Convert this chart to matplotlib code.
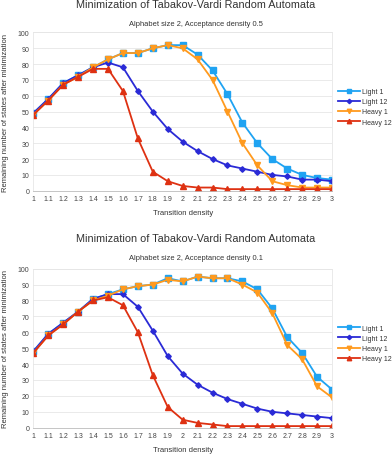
import matplotlib
matplotlib.use("Agg")
import matplotlib.pyplot as plt

plt.rcParams['font.family'] = ['Liberation Sans', 'DejaVu Sans']

density = [1, 1.1, 1.2, 1.3, 1.4, 1.5, 1.6, 1.7, 1.8, 1.9, 2,
           2.1, 2.2, 2.3, 2.4, 2.5, 2.6, 2.7, 2.8, 2.9, 3]
tick_labels = ['1', '1.1', '1.2', '1.3', '1.4', '1.5', '1.6', '1.7', '1.8', '1.9', '2',
               '2.1', '2.2', '2.3', '2.4', '2.5', '2.6', '2.7', '2.8', '2.9', '3']

# acceptance density 0.5
light1_a = [49, 58, 68, 73, 78, 83, 87, 87, 90, 92, 92, 86, 76, 61, 43, 30, 20, 14, 10, 8, 7]
light12_a = [49, 58, 68, 73, 78, 81, 78, 63, 50, 39, 31, 25, 20, 16, 14, 12, 10, 9, 7, 7, 6]
heavy1_a = [48, 57, 67, 72, 78, 83, 87, 87, 90, 92, 90, 83, 70, 50, 30, 16, 6, 3.5, 2, 2, 2]
heavy12_a = [48, 57, 67, 72, 77, 77, 63, 33, 12, 6, 3, 2, 2, 1, 1, 1, 1, 1, 1, 1, 1]

# acceptance density 0.1
light1_b = [48, 59, 66, 73, 81, 84, 87, 89, 90, 94, 92, 95, 94, 94, 92, 87, 75, 57, 47, 32, 24]
light12_b = [48, 59, 66, 73, 81, 84, 84, 76, 61, 45, 34, 27, 22, 18, 15, 12, 10, 9, 8, 7, 6]
heavy1_b = [47, 58, 65, 73, 80, 83, 87, 89, 90, 93, 92, 95, 94, 94, 90, 85, 72, 52, 43, 26, 19]
heavy12_b = [47, 58, 65, 73, 80, 82, 77, 60, 33, 13, 5, 3, 2, 1, 1, 1, 1, 1, 1, 1, 1]

names = ['Light 1', 'Light 12', 'Heavy 1', 'Heavy 12']
colors = ['#1fa3f2', '#2a2ad6', '#ff9a1e', '#de3112']
markers = ['s', 'D', 'v', '^']
msizes = [4, 2.8, 4, 4]

fig = plt.figure(figsize=(3.92, 4.56), dpi=100)


def draw(rect, series, subtitle, title_y):
    ax = fig.add_axes(rect)
    for vals, name, c, m, ms in zip(series, names, colors, markers, msizes):
        ax.plot(density, vals, color=c, lw=1.3, marker=m, ms=ms, label=name)
    ax.set_xlim(1, 3)
    ax.set_ylim(0, 100)
    ax.set_xticks(density)
    ax.set_xticklabels(tick_labels)
    ax.set_yticks(range(0, 101, 10))
    ax.tick_params(length=0, labelsize=5, colors='#444444', pad=3)
    ax.grid(axis='y', color='#e6e6e6', lw=0.6)
    ax.set_axisbelow(True)
    for s in ['top', 'left', 'right']:
        ax.spines[s].set_color('#e6e6e6')
        ax.spines[s].set_linewidth(0.6)
    ax.spines['bottom'].set_color('#bbbbbb')
    ax.spines['bottom'].set_linewidth(0.6)
    ax.set_xlabel('Transition density', fontsize=5.5, color='#333333', labelpad=5)
    ax.set_ylabel('Remaining number of states after minimization', fontsize=5.5,
                  color='#333333', labelpad=6)
    fig.text(0.5, title_y, 'Minimization of Tabakov-Vardi Random Automata',
             ha='center', va='center', fontsize=7.8, color='#333333')
    fig.text(0.5, title_y - 20 / 456, subtitle,
             ha='center', va='center', fontsize=5.4, color='#333333')
    ax.legend(loc='center left', bbox_to_anchor=(1.0, 0.53), frameon=False,
              fontsize=5, handlelength=3.2, handletextpad=0.2, labelspacing=0.45,
              markerscale=0.8, labelcolor='#333333')
    return ax


draw([0.085, 0.5796, 0.762, 0.347], [light1_a, light12_a, heavy1_a, heavy12_a],
     'Alphabet size 2, Acceptance density 0.5', 1 - 5 / 456)
draw([0.085, 0.0599, 0.762, 0.3487], [light1_b, light12_b, heavy1_b, heavy12_b],
     'Alphabet size 2, Acceptance density 0.1', 1 - 239 / 456)

fig.savefig('out.png', dpi=100)
